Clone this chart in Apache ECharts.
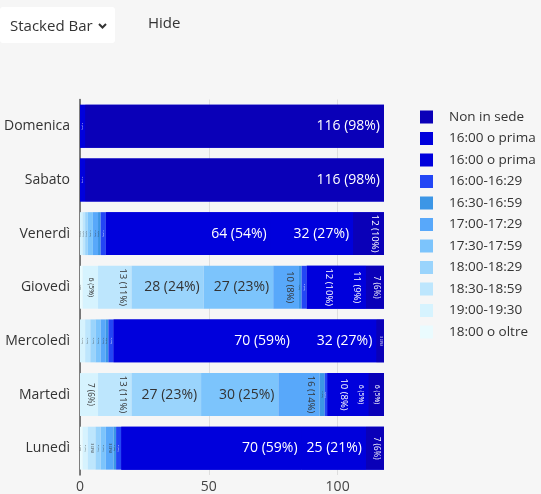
<!DOCTYPE html>
<html><head><meta charset="utf-8">
<script src="https://cdn.jsdelivr.net/npm/echarts@6/dist/echarts.min.js"></script>
<style>html,body{margin:0;padding:0;background:#f6f6f6;}#c{width:541px;height:494px;}</style>
</head><body><div id="c"></div>
<script>
// ---- data ----
const days = ['Lunedì','Martedì','Mercoledì','Giovedì','Venerdì','Sabato','Domenica'];
const seriesNames = ['18:00 o oltre','19:00-19:30','18:30-18:59','18:00-18:29','17:30-17:59','17:00-17:29','16:30-16:59','16:00-16:29','16:00 o prima','16:00 o prima\u00a0','Non in sede'];
const seriesColors = ['#eafbfe','#d6f3fe','#bde6fd','#9ad4fc','#7cc4fc','#58a8fa','#3c96e6','#2346f5','#0000dc','#0000dc','#0a00b8'];
const oltre1800 = [1,0,0,1,0,0,0];
const v1900 = [2,7,2,6,1,0,0];
const v1830 = [3,13,2,13,1,0,0];
const v1800 = [2,27,2,28,1,0,0];
const v1730 = [2,30,2,27,2,0,0];
const v1700 = [3,16,2,10,2,0,0];
const v1630 = [1,2,1,1,1,0,0];
const v1600 = [2,1,2,2,2,0,0];
const prima1 = [70,10,70,12,64,2,2];
const prima2 = [25,6,32,11,32,0,0];
const nonInSede = [7,6,3,7,12,116,116];
const seriesValues = [oltre1800,v1900,v1830,v1800,v1730,v1700,v1630,v1600,prima1,prima2,nonInSede];
const xMax = 118;
const xStep = 50;

const FONT = '"Open Sans", "Segoe UI", sans-serif';
const totals = days.map((d, di) => seriesValues.reduce((a, s) => a + s[di], 0));
// underlay (behind the dark block, hides anti-alias seams between adjacent dark segments)
const lightSum = days.map((d, di) => seriesValues.slice(0, 8).reduce((a, s) => a + s[di], 0));
const darkSum = days.map((d, di) => seriesValues.slice(8).reduce((a, s) => a + s[di], 0));

const chart = echarts.init(document.getElementById('c'));
const underlay = [
  {type: 'bar', stack: 'under', barWidth: '80%', silent: true, itemStyle: {color: 'rgba(0,0,0,0)'}, data: lightSum},
  {type: 'bar', stack: 'under', barWidth: '80%', silent: true, barGap: '-100%', itemStyle: {color: '#0000dc'}, data: darkSum}
];
const baseSeries = seriesNames.map((n, si) => ({
  name: n, type: 'bar', stack: 'all', barWidth: '80%', barGap: '-100%',
  itemStyle: {color: seriesColors[si]},
  emphasis: {disabled: true},
  data: seriesValues[si].slice()
}));
chart.setOption({
  backgroundColor: '#f6f6f6',
  animation: false,
  textStyle: {fontFamily: FONT},
  grid: {left: 80, right: 157, top: 99.5, bottom: 16.5, containLabel: false},
  legend: {
    orient: 'vertical', left: 420, top: 110, padding: 0,
    data: seriesNames.slice().reverse(),
    icon: 'rect', itemWidth: 13, itemHeight: 13, itemGap: 7.5,
    textStyle: {fontSize: 13.5, color: '#333', lineHeight: 14, padding: [0,0,0,11], fontFamily: FONT},
    selectedMode: false
  },
  xAxis: {
    type: 'value', min: 0, max: xMax, interval: xStep,
    axisLine: {show: false}, axisTick: {show: false},
    axisLabel: {fontSize: 14, color: '#444', margin: 5, showMaxLabel: false, fontFamily: FONT},
    splitLine: {show: true, lineStyle: {color: ['#dedede','#dedede','#dedede','rgba(0,0,0,0)'], width: 1}}
  },
  yAxis: {
    type: 'category', data: days,
    axisLine: {show: true, lineStyle: {color: '#555', width: 1.5}},
    axisTick: {show: false},
    axisLabel: {fontSize: 14, color: '#333', margin: 10, fontFamily: FONT}
  },
  graphic: [
    {type: 'rect', left: 0, top: 7, shape: {width: 115, height: 36, r: 3}, style: {fill: '#ffffff'}},
    {type: 'text', left: 10, top: 19, style: {text: 'Stacked Bar', font: '15px ' + FONT, fill: '#333'}},
    {type: 'polyline', shape: {points: [[99, 24], [102.5, 27.5], [106, 24]]}, style: {stroke: '#333', lineWidth: 2, fill: null}},
    {type: 'text', left: 148, top: 16, style: {text: 'Hide', font: '15px ' + FONT, fill: '#333'}}
  ],
  series: underlay.concat(baseSeries)
});

// ---- labels sized to fit each segment ----
const ctx = document.createElement('canvas').getContext('2d');
function textWidth(t, fs) { ctx.font = fs + 'px ' + FONT; return ctx.measureText(t).width; }
const px0 = chart.convertToPixel({xAxisIndex: 0}, 0);
const pxPerUnit = (chart.convertToPixel({xAxisIndex: 0}, 10) - px0) / 10;

const labeledSeries = seriesNames.map((n, si) => ({
  name: n,
  data: seriesValues[si].map((v, di) => {
    if (!v) return {value: v, label: {show: false}};
    const txt = v + ' (' + Math.round(v / totals[di] * 100) + '%)';
    const seg = v * pxPerUnit;
    const color = si <= 6 ? '#333' : '#ffffff';
    if (textWidth(txt, 14) + 8 <= seg) {
      return {value: v, label: {show: true, formatter: txt, position: 'insideRight', distance: 4, fontSize: 14, color: color, fontFamily: FONT}};
    }
    const fs = Math.max(2, Math.min(9.5, seg * 0.45));
    return {value: v, label: {show: true, formatter: txt, position: 'insideRight', distance: Math.min(4, seg * 0.25), rotate: -90,
      align: 'center', verticalAlign: 'top', fontSize: fs, color: color, fontFamily: FONT}};
  })
}));
chart.setOption({series: [{}, {}].concat(labeledSeries)});
</script>
</body></html>
